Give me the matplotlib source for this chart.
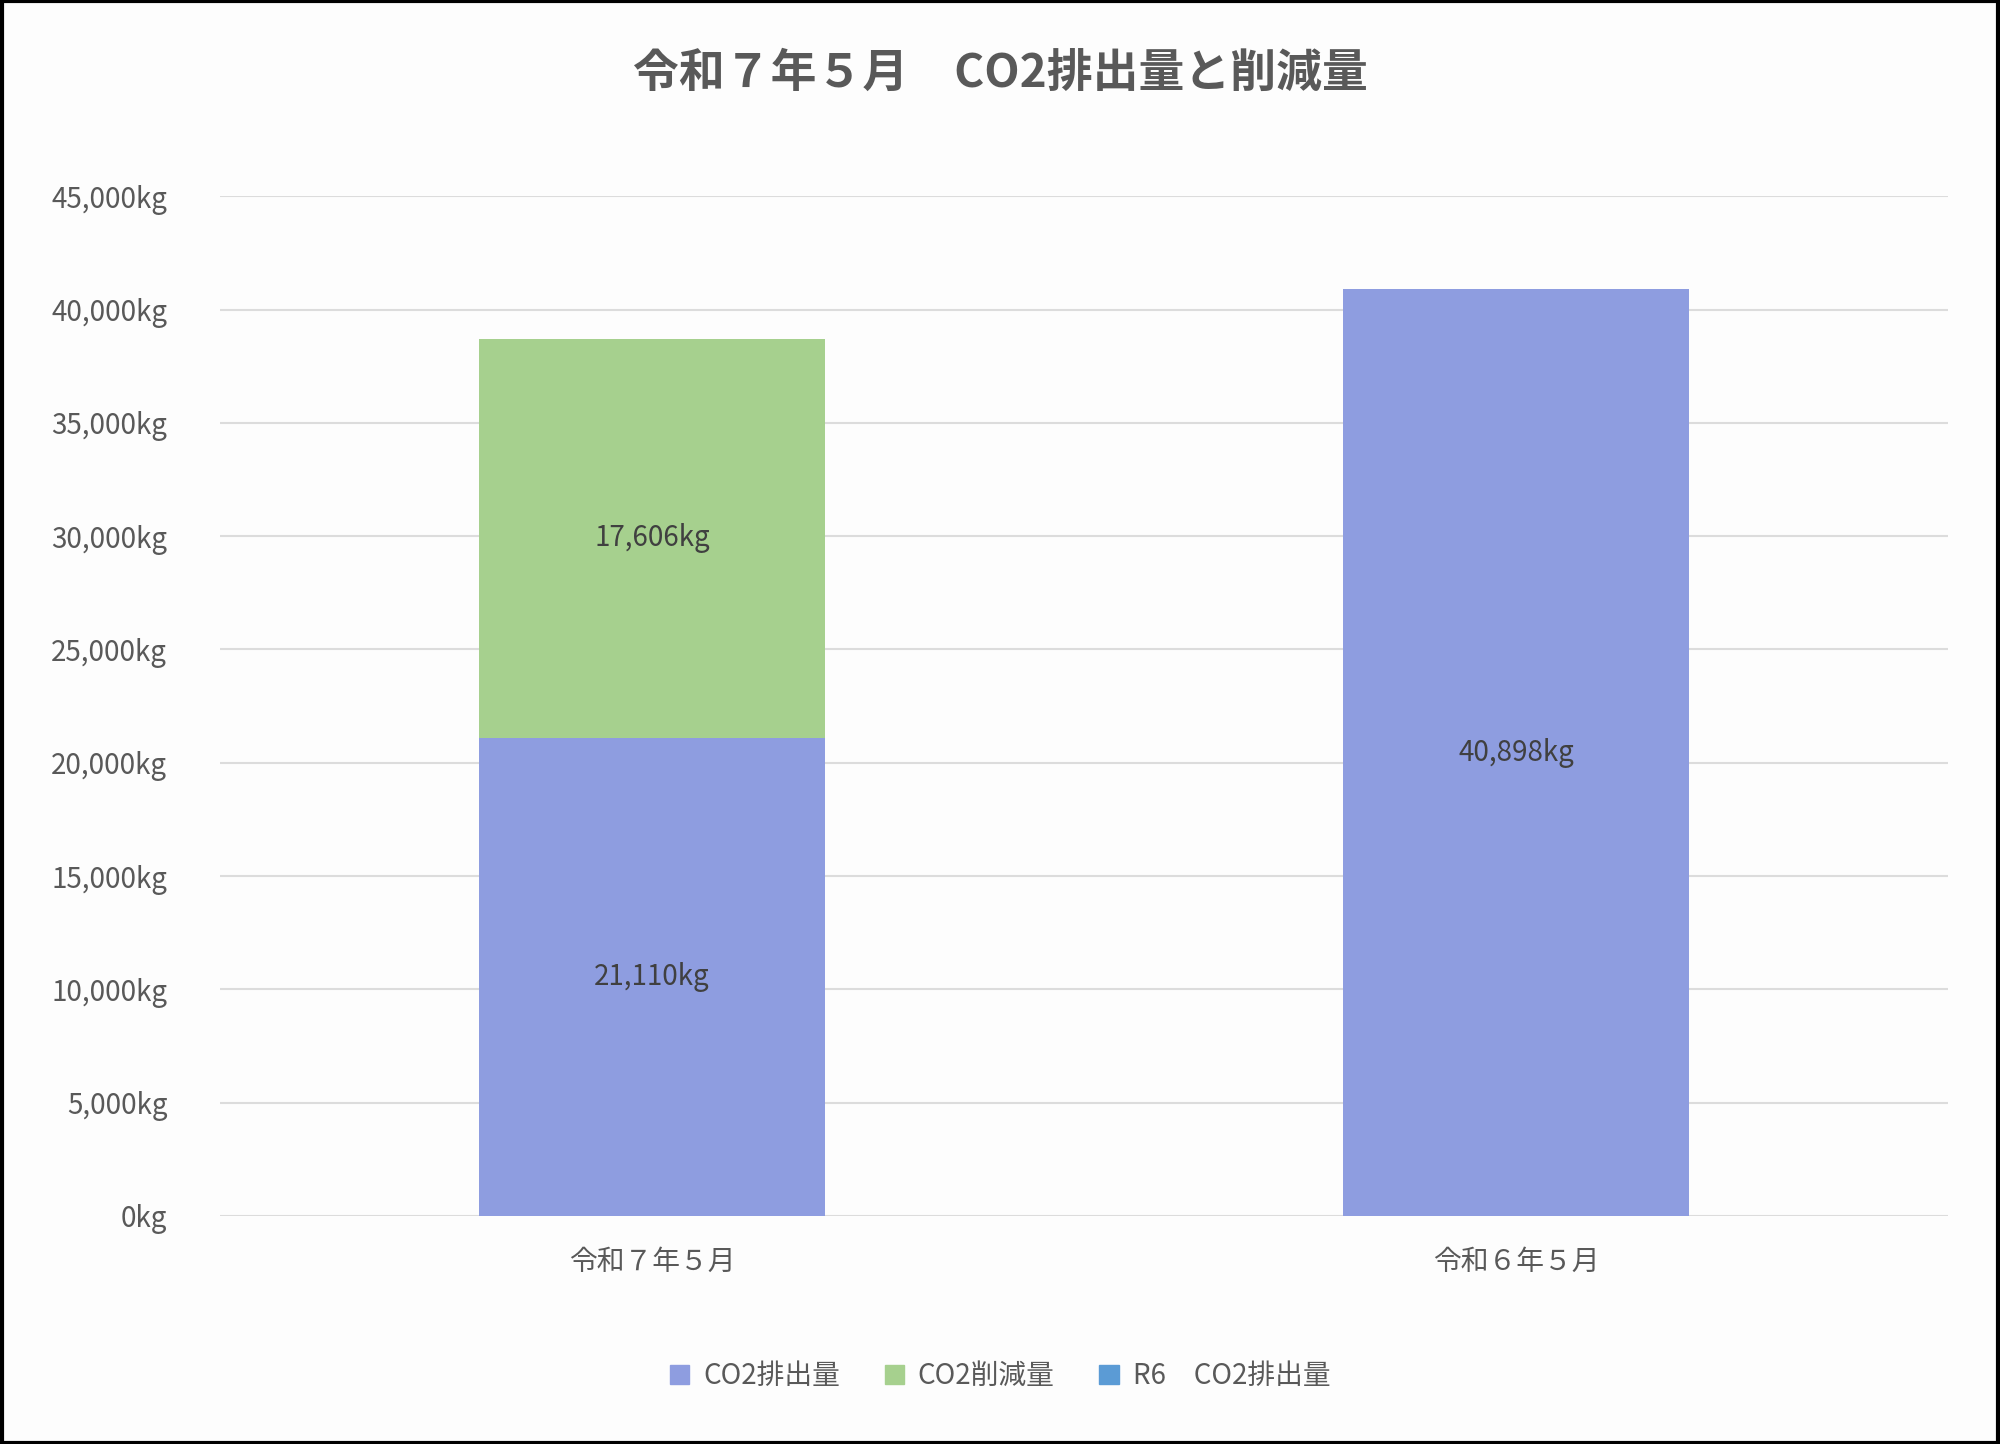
import matplotlib
matplotlib.use("Agg")
import matplotlib.pyplot as plt
from matplotlib.patches import Patch, Rectangle

plt.rcParams["font.family"] = "Noto Sans CJK JP"

categories = ["令和７年５月", "令和６年５月"]
emission_r7 = [21110, 0]
reduction_r7 = [17606, 0]
emission_r6 = [0, 40898]
y_ticks = [0, 5000, 10000, 15000, 20000, 25000, 30000, 35000, 40000, 45000]

PURPLE = "#8e9de0"
GREEN = "#a6d08e"
BLUE = "#5b9bd5"
GREY = "#595959"

fig = plt.figure(figsize=(20, 14.44), dpi=100)
fig.patch.set_facecolor("#fdfdfd")
ax = fig.add_axes([0.110, 0.158, 0.864, 0.706])
ax.set_facecolor("#fdfdfd")

x = [0, 1]
w = 0.4
b1 = ax.bar(x[0], emission_r7[0], w, color=PURPLE, zorder=3)
b2 = ax.bar(x[0], reduction_r7[0], w, bottom=emission_r7[0], color=GREEN, zorder=3)
b3 = ax.bar(x[1], emission_r6[1], w, color=PURPLE, zorder=3)

ax.text(x[0], emission_r7[0] / 2, f"{emission_r7[0]:,}kg", ha="center", va="center",
        fontsize=20, color="#404040", zorder=4)
ax.text(x[0], emission_r7[0] + reduction_r7[0] / 2, f"{reduction_r7[0]:,}kg", ha="center",
        va="center", fontsize=20, color="#404040", zorder=4)
ax.text(x[1], emission_r6[1] / 2, f"{emission_r6[1]:,}kg", ha="center", va="center",
        fontsize=20, color="#404040", zorder=4)

ax.set_xlim(-0.5, 1.5)
ax.set_ylim(0, 45000)
ax.set_yticks(y_ticks)
ax.set_yticklabels([f"{v:,}kg" for v in y_ticks])
ax.set_xticks(x)
ax.set_xticklabels(categories)
ax.tick_params(axis="both", length=0, labelsize=20, labelcolor=GREY)
ax.tick_params(axis="y", pad=38)
ax.tick_params(axis="x", pad=22)
ax.grid(axis="y", color="#dcdcdc", linewidth=1.5, zorder=0)
for s in ax.spines.values():
    s.set_visible(False)

fig.suptitle("令和７年５月　CO2排出量と削減量", x=0.5, y=0.965, fontsize=33,
             fontweight="bold", color=GREY)

handles = [Patch(color=PURPLE), Patch(color=GREEN), Patch(color=BLUE)]
fig.legend(handles, ["CO2排出量", "CO2削減量", "R6　CO2排出量"], loc="center",
           bbox_to_anchor=(0.5, 0.047), ncol=3, frameon=False, fontsize=20,
           labelcolor=GREY, handlelength=0.7, handleheight=0.7, columnspacing=1.6,
           handletextpad=0.5)

fig.add_artist(Rectangle((0.001, 0.001), 0.998, 0.998, transform=fig.transFigure,
                         fill=False, edgecolor="black", linewidth=3))

fig.savefig("out.png", dpi=100, facecolor=fig.get_facecolor())
